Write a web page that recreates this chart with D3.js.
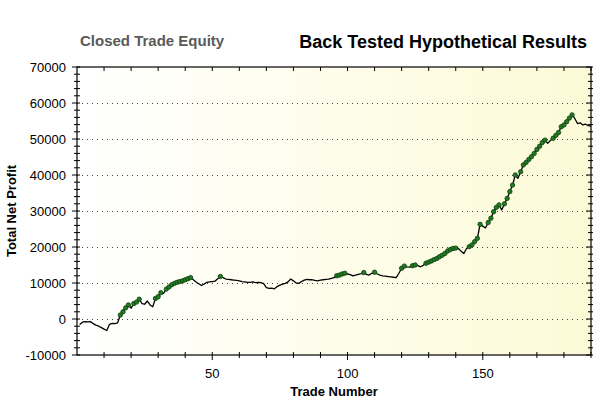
<!DOCTYPE html>
<html><head><meta charset="utf-8">
<script src="https://cdn.jsdelivr.net/npm/d3@7"></script>
<style>body{margin:0;background:#fff}svg{display:block}</style>
</head><body>
<script>
const titleLeft = "Closed Trade Equity";
const titleRight = "Back Tested Hypothetical Results";
const yLabel = "Total Net Profit";
const xLabel = "Trade Number";
const yTicks = [-10000, 0, 10000, 20000, 30000, 40000, 50000, 60000, 70000];
const xTicks = [50, 100, 150];
const equity = [
 -1500,-900,-700,-800,-700,-1300,-1700,-2000,-2400,-2800,
 -3200,-1500,-1200,-1300,-1100,1100,2000,3100,3900,3000,
 4300,4700,5500,4300,4100,5000,3900,3400,5700,6200,
 7300,7100,8300,8900,9500,9900,10200,10400,10600,10900,
 11200,11500,10900,10300,9800,9300,9700,10200,10300,10400,
 10500,11200,11800,11500,11100,11000,10900,10800,10700,10600,
 10400,10300,10200,10200,10300,10100,10200,10100,9800,8700,
 8500,8600,8400,9000,9400,9700,9900,10300,11100,10600,
 10000,9900,10400,10800,11000,10900,10900,10700,10600,10800,
 10900,11000,11100,11300,11500,12000,12200,12500,12700,12500,
 12300,12000,12200,12400,12600,12900,12400,12200,12700,13000,
 12500,12200,12000,11900,11800,11700,11600,11500,12700,14100,
 14700,14500,14400,14800,15000,14800,14500,14900,15500,15800,
 16100,16500,16800,17300,17700,18200,18900,19300,19600,19700,
 19600,18800,18200,19600,20100,20600,21500,22400,26300,25800,
 25300,26800,28000,29800,31000,31700,30300,32000,33500,35400,
 37200,40000,39100,40900,42800,43500,44300,45100,46000,47100,
 48000,49000,49700,48800,49600,50200,51000,51800,53400,53900,
 54800,55800,56700,55700,54300,54500,53900,54100,53700,53600
];
const trades = equity.map((d, i) => i + 1);

const W = 600, H = 418;
const L = 77, R = 591, T = 67, B = 355;
const svg = d3.select("body").append("svg").attr("width", W).attr("height", H)
  .style("font-family", "'Liberation Sans', Arial, sans-serif");

const x = d3.scaleLinear().domain([0, 190]).range([L, R]);
const y = d3.scaleLinear().domain([-10000, 70000]).range([B, T]);

const defs = svg.append("defs");
const g = defs.append("linearGradient").attr("id", "bg").attr("x1", "0").attr("x2", "1").attr("y1", "0").attr("y2", "0");
g.append("stop").attr("offset", "0").attr("stop-color", "#ffffff");
g.append("stop").attr("offset", "0.5").attr("stop-color", "#fefdeb");
g.append("stop").attr("offset", "1").attr("stop-color", "#fcfad6");
defs.append("clipPath").attr("id", "clip").append("rect").attr("x", L).attr("y", T).attr("width", R - L).attr("height", B - T);

svg.append("rect").attr("x", L).attr("y", T).attr("width", R - L).attr("height", B - T).attr("fill", "url(#bg)");

// grid
svg.append("g").selectAll("line").data(yTicks.filter(v => v > -10000 && v < 70000)).join("line")
  .attr("x1", L).attr("x2", R).attr("y1", d => y(d) + 0.5).attr("y2", d => y(d) + 0.5)
  .attr("stroke", "#444").attr("stroke-width", 1).attr("stroke-dasharray", "1,4");

// frame
const frame = svg.append("g").attr("stroke", "#000").attr("stroke-width", 1.2).attr("fill", "none");
frame.append("rect").attr("x", L).attr("y", T).attr("width", R - L).attr("height", B - T);

// ticks
const yMinor = d3.range(-10000, 70001, 2000);
const tg = svg.append("g").attr("stroke", "#000").attr("stroke-width", 1);
tg.selectAll(".ym").data(yMinor).join("line")
  .attr("x1", d => yTicks.includes(d) ? L - 5 : L - 3).attr("x2", L + 3)
  .attr("y1", d => y(d)).attr("y2", d => y(d));
tg.selectAll(".yr").data(yMinor).join("line")
  .attr("x1", d => yTicks.includes(d) ? R - 5 : R - 3).attr("x2", R + 2)
  .attr("y1", d => y(d)).attr("y2", d => y(d));
const xMinor = d3.range(10, 191, 10);
tg.selectAll(".xb").data(xMinor).join("line")
  .attr("x1", d => x(d)).attr("x2", d => x(d))
  .attr("y1", B - 3).attr("y2", d => xTicks.includes(d) ? B + 5 : B + 3);
tg.selectAll(".xt").data(xMinor).join("line")
  .attr("x1", d => x(d)).attr("x2", d => x(d))
  .attr("y1", T).attr("y2", T + 4);

// tick labels
svg.append("g").selectAll("text").data(yTicks).join("text")
  .attr("x", L - 11).attr("y", d => y(d) + 4.5).attr("text-anchor", "end")
  .attr("font-size", 13).attr("fill", "#000").text(d => d);
svg.append("g").selectAll("text").data(xTicks).join("text")
  .attr("x", d => x(d)).attr("y", B + 23).attr("text-anchor", "middle")
  .attr("font-size", 13).attr("fill", "#000").text(d => d);

// line
const pts = trades.map((t, i) => [t, equity[i]]);
const line = d3.line().x(d => x(d[0])).y(d => y(d[1]));
const plot = svg.append("g").attr("clip-path", "url(#clip)");
plot.append("path").datum(pts).attr("d", line).attr("fill", "none")
  .attr("stroke", "#000").attr("stroke-width", 1.3).attr("stroke-linejoin", "round");

// new-high markers
let peak = 0;
const highs = pts.filter(d => { if (d[1] > peak) { peak = d[1]; return true; } return false; });
plot.append("g").selectAll("circle").data(highs).join("circle")
  .attr("cx", d => x(d[0])).attr("cy", d => y(d[1])).attr("r", 2.2)
  .attr("fill", "#237a23").attr("stroke", "#0b3d0b").attr("stroke-width", 0.8);

// titles
svg.append("text").attr("x", 80).attr("y", 46).attr("font-size", 15).attr("font-weight", "bold")
  .attr("fill", "#5a5a5a").text(titleLeft);
svg.append("text").attr("x", 587).attr("y", 48).attr("text-anchor", "end").attr("font-size", 18).attr("font-weight", "bold")
  .attr("fill", "#000").text(titleRight);

svg.append("text").attr("x", (L + R) / 2).attr("y", 396).attr("text-anchor", "middle")
  .attr("font-size", 13).attr("font-weight", "bold").text(xLabel);
svg.append("text").attr("transform", `translate(16,${(T + B) / 2}) rotate(-90)`).attr("text-anchor", "middle")
  .attr("font-size", 13).attr("font-weight", "bold").text(yLabel);
</script>
</body></html>
